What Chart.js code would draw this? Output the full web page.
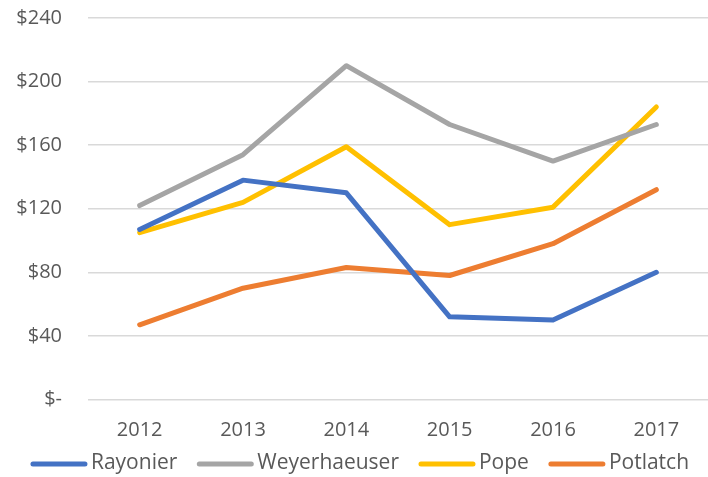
<!DOCTYPE html>
<html>
<head>
<meta charset="utf-8">
<script src="https://cdn.jsdelivr.net/npm/chart.js@4"></script>
<style>
  html, body { margin: 0; padding: 0; background: #fff; }
  #wrap { width: 708px; height: 477px; }
</style>
</head>
<body>
<div id="wrap"><canvas id="grafico" width="708" height="477"></canvas></div>
<script>
const anios = ['2012', '2013', '2014', '2015', '2016', '2017'];
const rayonier = [107, 138, 130, 52, 50, 80];
const weyerhaeuser = [122, 154, 210, 173, 150, 173];
const pope = [105, 124, 159, 110, 121, 184];
const potlatch = [47, 70, 83, 78, 98, 132];
const ticksY = [0, 40, 80, 120, 160, 200, 240];

const textoColor = '#595959';
const fuente = "'Open Sans', 'Liberation Sans', sans-serif";

function serie(nombre, datos, color) {
  return {
    label: nombre,
    data: datos,
    borderColor: color,
    backgroundColor: color,
    borderWidth: 5,
    pointRadius: 0,
    tension: 0,
    borderCapStyle: 'round',
    borderJoinStyle: 'round'
  };
}

// leyenda abajo, dibujada a mano para controlar los espacios
const leyendaAbajo = {
  id: 'leyendaAbajo',
  afterDraw(c) {
    const g = c.ctx;
    const trazo = 56, hueco = 4, separacion = 20, y = 463;
    g.save();
    g.font = '21px ' + fuente;
    g.textBaseline = 'middle';
    const items = c.data.datasets.map(d => ({ d, w: g.measureText(d.label).width }));
    const total = items.reduce((s, it) => s + trazo + hueco + it.w, 0) + separacion * (items.length - 1);
    let x = (c.width - total) / 2 + 6;
    items.forEach(it => {
      g.strokeStyle = it.d.borderColor;
      g.lineWidth = 5;
      g.lineCap = 'round';
      g.beginPath();
      g.moveTo(x + 2, y + 1);
      g.lineTo(x + trazo - 2, y + 1);
      g.stroke();
      x += trazo + hueco;
      g.fillStyle = textoColor;
      g.fillText(it.d.label, x, y);
      x += it.w + separacion;
    });
    g.restore();
  }
};

const ctx = document.getElementById('grafico').getContext('2d');
const chart = new Chart(ctx, {
  type: 'line',
  data: {
    labels: anios,
    datasets: [
      serie('Rayonier', rayonier, '#4472C4'),
      serie('Weyerhaeuser', weyerhaeuser, '#A5A5A5'),
      serie('Pope', pope, '#FFC000'),
      serie('Potlatch', potlatch, '#ED7D31')
    ]
  },
  options: {
    responsive: false,
    animation: false,
    layout: { padding: { top: 18, right: -4, bottom: 28.5, left: 0 } },
    scales: {
      x: {
        offset: true,
        afterFit: (eje) => { eje.height = 49; eje.paddingLeft = 0; eje.paddingRight = 0; },
        grid: { display: false },
        border: { display: false },
        ticks: { color: textoColor, font: { family: fuente, size: 20 }, padding: 11 }
      },
      y: {
        min: 0,
        max: 240,
        afterBuildTicks: (eje) => { eje.ticks = ticksY.map(v => ({ value: v })); },
        afterFit: (eje) => { eje.width = 88; eje.paddingTop = 0; eje.paddingBottom = 0; },
        grid: { color: '#D9D9D9', lineWidth: 1.5, drawTicks: false },
        border: { display: false },
        ticks: {
          color: textoColor,
          font: { family: fuente, size: 20 },
          padding: 26,
          callback: (v) => v === 0 ? '$-' : '$' + v
        }
      }
    },
    plugins: {
      tooltip: { enabled: false },
      legend: { display: false }
    }
  },
  plugins: [leyendaAbajo]
});
</script>
</body>
</html>
